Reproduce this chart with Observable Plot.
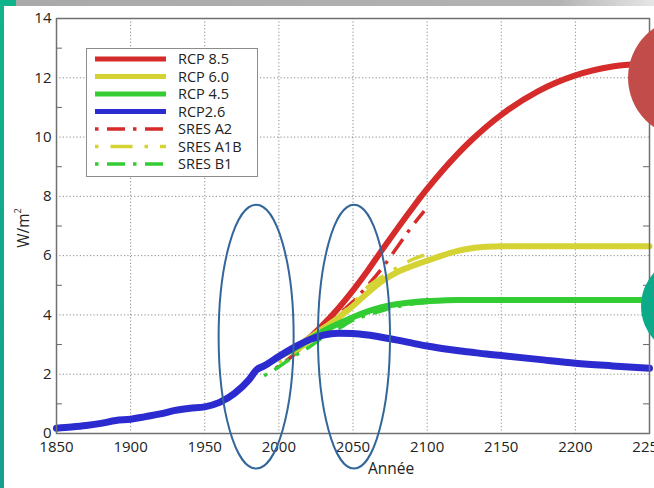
<!DOCTYPE html>
<html><head><meta charset="utf-8">
<script src="https://cdn.jsdelivr.net/npm/d3@7"></script>
<script src="https://cdn.jsdelivr.net/npm/@observablehq/plot@0.6"></script>
<style>
html,body{margin:0;padding:0}
body{width:654px;height:488px;overflow:hidden;background:#fff;position:relative;font-family:"Open Sans",sans-serif;color:#222}
#stripe{position:absolute;left:0;top:0;width:4px;height:488px;background:linear-gradient(#10b48a,#179f8e)}
#corner{position:absolute;left:0;top:0;width:16px;height:6px;background:#10b48a}
#bar{position:absolute;left:16px;top:0;width:638px;height:6px;background:linear-gradient(to right,#a9a9a9,#b3b3b3 85%,#e6e6e6)}
#chart{position:absolute;left:0;top:0}
#legend{position:absolute;left:86px;top:48px}
#ylabel{position:absolute;left:23px;top:228px;transform:translate(-50%,-50%) rotate(-90deg);font-size:15.5px;white-space:nowrap}
#ylabel sup{font-size:9px;position:relative;top:-2px}
#xlabel{position:absolute;left:391px;top:468px;transform:translate(-50%,-50%);font-size:15.5px}
</style>
</head><body>
<div id="chart"></div>
<div id="stripe"></div><div id="corner"></div><div id="bar"></div>
<div id="ylabel">W/m<sup>2</sup></div>
<div id="xlabel">Année</div>
<div id="legend"></div>
<script>
// ---- data ----
const histYears = [1850,1860,1870,1880,1890,1900,1910,1920,1930,1940,1950,1960,1970,1980,1985,1990,2000];
const histValues = [0.18,0.22,0.27,0.34,0.44,0.48,0.57,0.66,0.78,0.85,0.9,1.05,1.35,1.82,2.15,2.28,2.6];

const rcpYears = [2000,2010,2020,2030,2040,2050,2060,2070,2080,2090,2100,2110,2120,2130,2140,2150,2175,2200,2225,2250];
const rcp85 = [2.6,2.85,3.2,3.68,4.22,4.83,5.5,6.22,6.92,7.6,8.25,8.85,9.4,9.9,10.35,10.75,11.55,12.08,12.38,12.48];
const rcp60 = [2.6,2.85,3.2,3.55,3.9,4.3,4.75,5.15,5.45,5.65,5.83,6.0,6.15,6.25,6.3,6.32,6.32,6.32,6.32,6.32];
const rcp45 = [2.6,2.85,3.15,3.45,3.7,3.92,4.12,4.27,4.37,4.43,4.47,4.49,4.5,4.5,4.5,4.5,4.5,4.5,4.5,4.5];
const rcp26 = [2.6,2.9,3.15,3.32,3.38,3.37,3.32,3.24,3.15,3.05,2.95,2.87,2.8,2.74,2.68,2.63,2.5,2.37,2.28,2.2];

const a2Years = [1998,2010,2020,2030,2040,2050,2060,2070,2080,2090,2098];
const sresA2 = [2.2,2.65,3.1,3.5,4.0,4.45,5.0,5.6,6.3,7.0,7.5];
const a1bYears = [2000,2010,2020,2030,2040,2050,2060,2070,2080,2090,2098];
const sresA1B = [2.4,2.7,3.05,3.45,3.95,4.4,4.95,5.3,5.6,5.87,6.02];
const b1Years = [1990,2000,2010,2020,2030,2040,2050,2060,2070,2080,2090,2100];
const sresB1 = [1.95,2.25,2.6,2.9,3.25,3.53,3.82,4.0,4.15,4.28,4.37,4.42];

const xTicks = [1850,1900,1950,2000,2050,2100,2150,2200,2250];
const yTicks = [0,2,4,6,8,10,12,14];
const yMinor = [1,3,5,7,9,11,13];

const legendLabels = ["RCP 8.5","RCP 6.0","RCP 4.5","RCP2.6","SRES A2","SRES A1B","SRES B1"];

// annotations drawn on the slide (data coordinates)
const ellipseYears = [1985, 2051];
const ellipseValues = [3.25, 3.25];
const ellipseSpanYears = [25.3, 24.3];
const ellipseSpanValues = [4.45, 4.45];
const redSpot = [{year: 2276, value: 12.0}];
const tealSpot = [{year: 2278, value: 4.3}];

// ---- styles ----
const C = {red: "#d52b2b", yellow: "#d5d334", green: "#33cc33", blue: "#2b2bcf"};
const dashA = "3.5,8.5,18,8";
const dashB = "3.5,12,22,12";

const toRows = (xs, vs) => xs.map((x, i) => ({year: x, value: vs[i]}));
const blueRows = toRows(histYears, histValues).concat(toRows(rcpYears.slice(1), rcp26.slice(1)));

const lineOpts = (color, w, dash) => ({x: "year", y: "value", stroke: color, strokeWidth: w, curve: "monotone-x", strokeDasharray: dash, strokeLinecap: dash ? "butt" : "round"});

const chart = Plot.plot({
  width: 654, height: 488,
  marginLeft: 56, marginRight: 5, marginTop: 18, marginBottom: 55,
  style: {fontFamily: "Open Sans, sans-serif", fontSize: "14px", color: "#222", background: "transparent"},
  x: {domain: [1850, 2250]},
  y: {domain: [0, 14]},
  marks: [
    Plot.gridX(xTicks, {stroke: "#8a8a8a", strokeOpacity: 1, strokeDasharray: "1.2,2.2"}),
    Plot.gridY(yTicks, {stroke: "#8a8a8a", strokeOpacity: 1, strokeDasharray: "1.2,2.2"}),
    Plot.ruleY(yMinor, {x1: 1850, x2: 1854, stroke: "#666"}),
    Plot.ruleY(yMinor, {x1: 2246, x2: 2250, stroke: "#666"}),
    Plot.axisX(xTicks, {tickSize: 0, tickPadding: 8, tickFormat: d => String(d), label: null, fontSize: 15}),
    Plot.axisY(yTicks, {tickSize: 0, tickPadding: 5, label: null, fontSize: 15}),
    Plot.line(toRows(a2Years, sresA2), lineOpts(C.red, 3.5, dashA)),
    Plot.line(toRows(a1bYears, sresA1B), lineOpts(C.yellow, 3.5, dashB)),
    Plot.line(toRows(b1Years, sresB1), lineOpts(C.green, 3.5, dashA)),
    Plot.line(toRows(rcpYears, rcp85), lineOpts(C.red, 6)),
    Plot.line(toRows(rcpYears, rcp60), lineOpts(C.yellow, 6)),
    Plot.line(toRows(rcpYears, rcp45), lineOpts(C.green, 6)),
    Plot.line(blueRows, lineOpts(C.blue, 7)),
    Plot.frame({stroke: "#707070", strokeWidth: 1.5}),
    Plot.dot(redSpot, {x: "year", y: "value", r: 60, fill: "#c24c4a", stroke: "none"}),
    Plot.dot(tealSpot, {x: "year", y: "value", r: 50, fill: "#0daa8a", stroke: "none"})
  ]
});
document.getElementById("chart").append(chart);

// ellipses through the plot's scales
const xs = chart.scale("x"), ys = chart.scale("y");
const svg = d3.select(chart);
ellipseYears.forEach((yr, i) => {
  const cx = xs.apply(yr), cy = ys.apply(ellipseValues[i]);
  svg.append("ellipse")
    .attr("cx", cx).attr("cy", cy)
    .attr("rx", xs.apply(yr + ellipseSpanYears[i]) - cx)
    .attr("ry", cy - ys.apply(ellipseValues[i] + ellipseSpanValues[i]))
    .attr("fill", "none").attr("stroke", "#33669a").attr("stroke-width", 2);
});

// legend
const legendColors = [C.red, C.yellow, C.green, C.blue, C.red, C.yellow, C.green];
const legendDash = [null, null, null, null, dashA, dashB, dashA];
const lg = d3.select("#legend").append("svg").attr("width", 172).attr("height", 129);
lg.append("rect").attr("x", 0.5).attr("y", 0.5).attr("width", 171).attr("height", 128)
  .attr("fill", "#fff").attr("stroke", "#8c8c8c").attr("stroke-width", 1);
legendLabels.forEach((t, i) => {
  const y = 11 + i * 17.5;
  lg.append("line").attr("x1", 9).attr("x2", 80).attr("y1", y).attr("y2", y)
    .attr("stroke", legendColors[i]).attr("stroke-width", legendDash[i] ? 3.5 : 5)
    .attr("stroke-dasharray", legendDash[i]);
  lg.append("text").attr("x", 92).attr("y", y).attr("dy", "0.36em")
    .attr("font-family", "Open Sans, sans-serif").attr("font-size", 14.5).attr("fill", "#222").text(t);
});
</script>
</body></html>
